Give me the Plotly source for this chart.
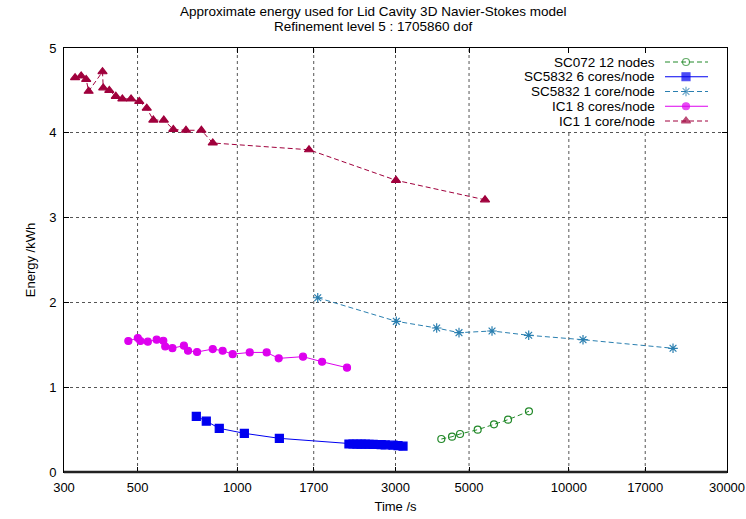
import math
import plotly.graph_objects as go

# ---- data ----
sc072_t = [4124, 4442, 4696, 5310, 5946, 6556, 7580]
sc072_e = [0.389, 0.416, 0.448, 0.499, 0.562, 0.617, 0.716]

sc6_t = [752, 806, 882, 1050, 1339, 2171, 2233, 2296, 2363, 2430, 2497, 2569, 2716, 2793, 2948, 3053, 3161]
sc6_e = [0.657, 0.600, 0.515, 0.456, 0.397, 0.330, 0.330, 0.329, 0.328, 0.328, 0.327, 0.325, 0.322, 0.320, 0.316, 0.312, 0.305]

sc1_t = [1748, 3017, 3993, 4663, 5865, 7567, 11035, 20620]
sc1_e = [2.055, 1.777, 1.698, 1.643, 1.663, 1.612, 1.560, 1.459]

ic8_t = [469, 501, 510, 537, 571, 598, 606, 637, 690, 710, 756, 843, 903, 968, 1090, 1226, 1333, 1578, 1801, 2142]
ic8_e = [1.545, 1.580, 1.545, 1.537, 1.560, 1.548, 1.480, 1.460, 1.490, 1.430, 1.415, 1.450, 1.430, 1.390, 1.410, 1.410, 1.340, 1.360, 1.300, 1.230]

ic1_t = [324, 338, 350, 356, 392, 394, 411, 430, 450, 478, 506, 533, 558, 600, 641, 700, 779, 843, 1645, 3010, 5586]
ic1_e = [4.65, 4.67, 4.63, 4.49, 4.72, 4.53, 4.50, 4.43, 4.40, 4.40, 4.37, 4.29, 4.15, 4.15, 4.04, 4.03, 4.03, 3.88, 3.80, 3.44, 3.21]

x_ticks = [300, 500, 1000, 1700, 3000, 5000, 10000, 17000, 30000]
x_tick_text = ["300", "500", "1000", "1700", "3000", "5000", "10000", "17000", "30000"]
y_ticks = [0, 1, 2, 3, 4, 5]

title_lines = ["Approximate energy used for Lid Cavity 3D Navier-Stokes model",
               "Refinement level 5 : 1705860 dof"]

X_MIN, X_MAX = 300, 30000
DASH = "5px,3px"
series = [
    dict(name="SC072 12 nodes", t=sc072_t, e=sc072_e, color="#23892a", dash=DASH, symbol="circle-open", size=7),
    dict(name="SC5832 6 cores/node", t=sc6_t, e=sc6_e, color="#0000f0", dash="solid", symbol="square", size=8),
    dict(name="SC5832 1 core/node", t=sc1_t, e=sc1_e, color="#2a7fb0", dash=DASH, symbol="asterisk-open", size=8),
    dict(name="IC1 8 cores/node", t=ic8_t, e=ic8_e, color="#dd00ee", dash="solid", symbol="circle", size=7),
    dict(name="IC1 1 core/node", t=ic1_t, e=ic1_e, color="#a0003c", dash=DASH, symbol="triangle-up", size=8),
]

FONT = "Liberation Sans, Arial, sans-serif"
fig = go.Figure()

for s in series:
    fig.add_trace(go.Scatter(
        x=s["t"], y=s["e"], mode="lines+markers", name=s["name"],
        line=dict(color=s["color"], width=1, dash=s["dash"]),
        marker=dict(symbol=s["symbol"], size=s["size"], color=s["color"],
                    line=dict(color=s["color"], width=1.2)),
        showlegend=False,
    ))

# vertical dotted grid; hidden behind the opaque key area like gnuplot
KEY_LEFT = (505 - 64) / 663
KEY_BOTTOM = (472 - 130) / 424
for t in x_ticks[1:-1]:
    fx = math.log10(t / X_MIN) / math.log10(X_MAX / X_MIN)
    top = KEY_BOTTOM if fx > KEY_LEFT else 1
    fig.add_shape(type="line", xref="paper", yref="paper", x0=fx, x1=fx, y0=0, y1=top,
                  line=dict(color="#555", width=1, dash="dot"), layer="below")

# gnuplot-style legend: text right-aligned, sample on the right
leg_y = [(472 - py) / 424 for py in (62, 76.75, 91.5, 106.25, 121)]
for s, ly in zip(series, leg_y):
    fig.add_annotation(x=(657 - 64) / 663, y=ly, xref="paper", yref="paper", text=s["name"],
                       showarrow=False, xanchor="right", yanchor="middle",
                       font=dict(family=FONT, size=13.5, color="#000"))
    fig.add_trace(go.Scatter(
        x=[(665 - 64) / 663, (686 - 64) / 663, (708 - 64) / 663], y=[ly, ly, ly],
        xaxis="x2", yaxis="y2", mode="lines+markers",
        line=dict(color=s["color"], width=1, dash=s["dash"]),
        marker=dict(symbol=s["symbol"], size=[0, s["size"], 0], color=s["color"],
                    line=dict(color=s["color"], width=1.2)),
        showlegend=False, hoverinfo="skip",
    ))

# two-line title as annotations (centred on the figure)
for txt, py in zip(title_lines, (12, 27)):
    fig.add_annotation(x=(373 - 64) / 663, y=1 + (48 - py) / 424, xref="paper", yref="paper",
                       text=txt, showarrow=False, xanchor="center", yanchor="middle",
                       font=dict(family=FONT, size=13.5, color="#000"))

axis_common = dict(
    showline=True, linecolor="#000", linewidth=1, mirror="ticks",
    ticks="inside", ticklen=5, tickcolor="#000", automargin=False,
    zeroline=False, tickfont=dict(family=FONT, size=13, color="#000"),
)

fig.update_layout(
    width=746, height=519,
    margin=dict(l=64, r=19, t=48, b=47),
    paper_bgcolor="white", plot_bgcolor="white",
    font=dict(family=FONT, size=13, color="#000"),
    xaxis=dict(type="log", range=[math.log10(X_MIN), math.log10(X_MAX)],
               tickvals=x_ticks, ticktext=x_tick_text, showgrid=False,
               ticklabelstandoff=3,
               title=dict(text="Time /s", font=dict(family=FONT, size=13), standoff=8),
               **axis_common),
    yaxis=dict(range=[0, 5], tickvals=y_ticks, ticklabelstandoff=4,
               showgrid=True, gridcolor="#555", griddash="dot", gridwidth=1,
               title=dict(text="Energy /kWh", font=dict(family=FONT, size=13), standoff=10),
               **axis_common),
    xaxis2=dict(overlaying="x", range=[0, 1], visible=False, showgrid=False),
    yaxis2=dict(overlaying="y", range=[0, 1], visible=False, showgrid=False),
    showlegend=False,
)

# slightly heavier bottom border like the reference
fig.add_shape(type="line", xref="paper", yref="paper", x0=0, x1=1, y0=0, y1=0,
              line=dict(color="#222", width=2.5))

fig.write_html("out.html")
